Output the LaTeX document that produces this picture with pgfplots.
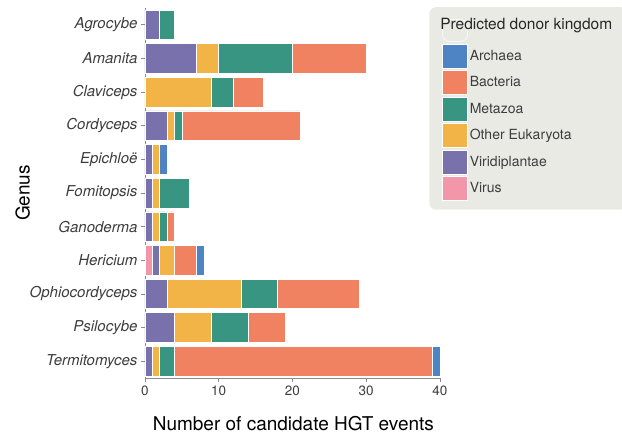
\documentclass[border=0pt]{standalone}
\usepackage{pgfplots}
\pgfplotsset{compat=1.18}
\usepackage{fontspec}
\setmainfont{TeX Gyre Heros}
\definecolor{cArch}{HTML}{4E84C4}
\definecolor{cBact}{HTML}{F08262}
\definecolor{cMeta}{HTML}{379582}
\definecolor{cOEuk}{HTML}{F3B447}
\definecolor{cViri}{HTML}{7871AB}
\definecolor{cVirus}{HTML}{F496A9}
\definecolor{legbg}{HTML}{EAEAE5}
\definecolor{tickc}{HTML}{3D3D3D}
\definecolor{spinec}{HTML}{8A8A8A}
\begin{document}
\begin{tikzpicture}
\useasboundingbox (0,0) rectangle (622pt,435pt);
\begin{axis}[
  at={(145pt,57pt)}, anchor=south west,
  scale only axis, width=295pt, height=370pt,
  xbar stacked, bar width=0.88,
  xmin=0, xmax=40, ymin=-0.5, ymax=10.5, y dir=reverse,
  ytick={0,...,10},
  yticklabels={Agrocybe,Amanita,Claviceps,Cordyceps,Epichloë,Fomitopsis,Ganoderma,Hericium,Ophiocordyceps,Psilocybe,Termitomyces},
  xtick={0,10,20,30,40},
  axis x line*=bottom, axis y line*=left,
  axis line style={-, draw=spinec, line width=0.8pt},
  tick style={draw=spinec, line width=0.8pt},
  tick align=outside, major tick length=4pt,
  /pgf/number format/assume math mode=true,
  yticklabel style={font=\itshape\fontsize{15}{17}\selectfont, text=tickc},
  xticklabel style={font=\fontsize{13.5}{16}\selectfont, text=tickc},
  xlabel={Number of candidate HGT events},
  ylabel={Genus},
  xlabel style={font=\fontsize{19}{21}\selectfont, at={(axis description cs:0.503,-0.124)}, anchor=center},
  ylabel style={font=\fontsize{19}{21}\selectfont, at={(axis description cs:-0.415,0.5)}, anchor=center},
  legend cell align=left,
  legend image code/.code={\draw[#1, sharp corners, draw=white, line width=0.5pt] (0pt,-12pt) rectangle (25pt,12pt);},
  legend style={at={(axis description cs:0.963,1.003)}, anchor=north west,
    fill=legbg, draw=none, rounded corners=7pt, inner xsep=13pt, inner ysep=9pt,
    font=\fontsize{14}{16}\selectfont, text=tickc, row sep=2pt,
    /tikz/every even column/.append style={column sep=4.5pt}},
  every axis plot/.append style={draw=white, line width=0.5pt},
]
% order: Agrocybe, Amanita, Claviceps, Cordyceps, Epichloe, Fomitopsis, Ganoderma, Hericium, Ophiocordyceps, Psilocybe, Termitomyces
\addplot[fill=cVirus, forget plot] coordinates {(0,0) (0,1) (0,2) (0,3) (0,4) (0,5) (0,6) (1,7) (0,8) (0,9) (0,10)};
\addplot[fill=cViri, forget plot] coordinates {(2,0) (7,1) (0,2) (3,3) (1,4) (1,5) (1,6) (1,7) (3,8) (4,9) (1,10)};
\addplot[fill=cOEuk, forget plot] coordinates {(0,0) (3,1) (9,2) (1,3) (1,4) (1,5) (1,6) (2,7) (10,8) (5,9) (1,10)};
\addplot[fill=cMeta, forget plot] coordinates {(2,0) (10,1) (3,2) (1,3) (0,4) (4,5) (1,6) (0,7) (5,8) (5,9) (2,10)};
\addplot[fill=cBact, forget plot] coordinates {(0,0) (10,1) (4,2) (16,3) (0,4) (0,5) (1,6) (3,7) (11,8) (5,9) (35,10)};
\addplot[fill=cArch, forget plot] coordinates {(0,0) (0,1) (0,2) (0,3) (1,4) (0,5) (0,6) (1,7) (0,8) (0,9) (1,10)};
\addlegendimage{legend image code/.code={\path (0pt,-17pt) rectangle (25pt,5pt);}}
\addlegendentry{\hspace{-29.5pt}{\fontsize{15.5}{17}\selectfont\color{black!85}Predicted donor kingdom}\hspace{6pt}}
\addlegendimage{fill=cArch}\addlegendentry{Archaea}
\addlegendimage{fill=cBact}\addlegendentry{Bacteria}
\addlegendimage{fill=cMeta}\addlegendentry{Metazoa}
\addlegendimage{fill=cOEuk}\addlegendentry{Other Eukaryota}
\addlegendimage{fill=cViri}\addlegendentry{Viridiplantae}
\addlegendimage{fill=cVirus}\addlegendentry{Virus}
\end{axis}
\end{tikzpicture}
\end{document}
